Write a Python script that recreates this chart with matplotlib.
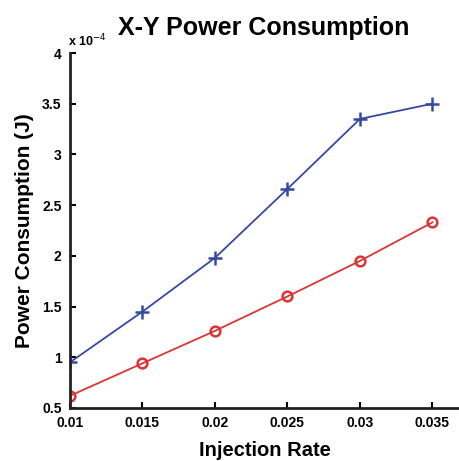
import matplotlib
matplotlib.use("Agg")
import matplotlib.pyplot as plt

# injection rate vs power consumption (J, x1e-4)
rate = [0.010, 0.015, 0.020, 0.025, 0.030, 0.035]
power_plus = [0.95, 1.45, 1.98, 2.66, 3.35, 3.50]
power_circ = [0.62, 0.94, 1.26, 1.60, 1.95, 2.33]
xticks = [0.01, 0.015, 0.02, 0.025, 0.03, 0.035]
yticks = [0.5, 1, 1.5, 2, 2.5, 3, 3.5, 4]

plt.rcParams["font.family"] = ["Liberation Sans", "DejaVu Sans"]

fig = plt.figure(figsize=(4.6, 4.61), dpi=100)
ax = fig.add_axes([0.152, 0.115, 0.848, 0.77])

ax.plot(rate, power_plus, color="#3549a3", lw=1.3, marker="+", ms=10, mew=1.8)
ax.plot(rate, power_circ, color="#dc3434", lw=1.3, marker="o", ms=7,
        mfc="none", mew=1.8)

ax.set_xlim(0.01, 0.0369)
ax.set_ylim(0.5, 4)
ax.set_xticks(xticks)
ax.set_xticklabels(["0.01", "0.015", "0.02", "0.025", "0.03", "0.035"])
ax.set_yticks(yticks)
ax.set_yticklabels(["0.5", "1", "1.5", "2", "2.5", "3", "3.5", "4"])
ax.tick_params(direction="in", length=4, width=1.5, labelsize=10, pad=6)
for lab in ax.get_xticklabels() + ax.get_yticklabels():
    lab.set_fontweight("bold")
ax.spines["top"].set_visible(False)
ax.spines["right"].set_visible(False)
for s in ("left", "bottom"):
    ax.spines[s].set_linewidth(2)
    ax.spines[s].set_color("#222222")

ax.set_xlabel("Injection Rate", fontsize=14.5, fontweight="bold", labelpad=8)
ax.set_ylabel("Power Consumption (J)", fontsize=15, fontweight="bold", labelpad=6)
fig.text(68 / 460, 1 - 46 / 461, r"x 10$^{-4}$", fontsize=9,
         fontweight="bold", ha="left", va="baseline")
fig.text(264 / 460, 1 - 28 / 461, "X-Y Power Consumption", fontsize=18,
         fontweight="bold", ha="center", va="center")

fig.savefig("out.png", dpi=100)
